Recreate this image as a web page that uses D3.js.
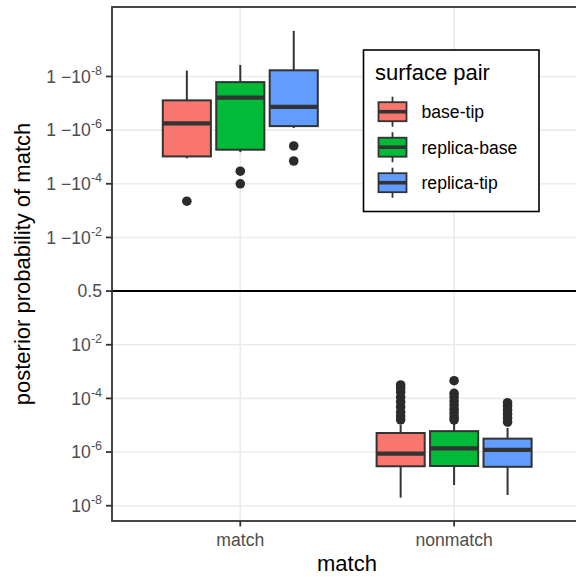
<!DOCTYPE html>
<html>
<head>
<meta charset="utf-8">
<script src="https://cdn.jsdelivr.net/npm/d3@7"></script>
<style>
  html, body { margin: 0; padding: 0; background: #fff; }
  svg { display: block; font-family: "Liberation Sans", Arial, Helvetica, sans-serif; }
</style>
</head>
<body>
<div id="chart"></div>
<script>
// Posterior probability of match, stored as log10 odds: log10(p / (1 - p))
const groups = ["match", "nonmatch"];
const pairs = ["base-tip", "replica-base", "replica-tip"];
const pairColors = ["#F8766D", "#00BA38", "#619CFF"];

// Box-plot summaries, indexed [group][pair]
const whiskerLow = [[4.95, 5.18, 6.08], [-7.70, -7.23, -7.60]];
const q1         = [[5.02, 5.27, 6.15], [-6.53, -6.52, -6.55]];
const median     = [[6.25, 7.21, 6.87], [-6.06, -5.86, -5.92]];
const q3         = [[7.11, 7.79, 8.23], [-5.29, -5.22, -5.50]];
const whiskerHigh= [[8.22, 8.43, 9.70], [-4.99, -4.92, -5.10]];
const outliers   = [
  [[3.35], [4.47, 4.00], [5.41, 4.85]],
  [[-3.50, -3.61, -3.76, -3.95, -4.13, -4.32, -4.51, -4.66, -4.80],
   [-3.34, -3.81, -3.95, -4.10, -4.25, -4.40, -4.54, -4.69, -4.80],
   [-4.16, -4.28, -4.43, -4.58, -4.73, -4.88]]
];

// Axis breaks (log10 odds) and their labels: [base text, superscript]
const yTicks = [-8, -6, -4, -2, 0, 2, 4, 6, 8];
const yTickLabels = [
  ["10", "-8"], ["10", "-6"], ["10", "-4"], ["10", "-2"], ["0.5", ""],
  ["1 \u221210", "-2"], ["1 \u221210", "-4"], ["1 \u221210", "-6"], ["1 \u221210", "-8"]
];
const yDomain = [-8.57, 10.59];

const W = 576, H = 577;
const panel = { left: 112, top: 7, right: 582.4, bottom: 521 };

const svg = d3.select("#chart").append("svg")
  .attr("width", W).attr("height", H);

svg.append("rect").attr("width", W).attr("height", H).attr("fill", "#fff");

const x = d3.scalePoint().domain(groups)
  .range([panel.left, panel.right]).padding(0.6);
const step = x.step();
const dodge = d3.scaleBand().domain(pairs)
  .range([-0.375 * step, 0.375 * step]);
const boxW = dodge.bandwidth() * 0.9;
const y = d3.scaleLinear().domain(yDomain).range([panel.bottom, panel.top]);

// Grid
const grid = svg.append("g");
grid.selectAll("line.h").data(yTicks).join("line")
  .attr("x1", panel.left).attr("x2", W)
  .attr("y1", d => y(d)).attr("y2", d => y(d))
  .attr("stroke", "#EBEBEB").attr("stroke-width", 1.6);
grid.selectAll("line.v").data(groups).join("line")
  .attr("x1", d => x(d)).attr("x2", d => x(d))
  .attr("y1", panel.top).attr("y2", panel.bottom)
  .attr("stroke", "#EBEBEB").attr("stroke-width", 1.6);

// Reference line at p = 0.5
svg.append("line")
  .attr("x1", panel.left).attr("x2", W)
  .attr("y1", y(0)).attr("y2", y(0))
  .attr("stroke", "#000").attr("stroke-width", 2);

// Boxes
const boxes = [];
groups.forEach((g, gi) => pairs.forEach((p, pi) => {
  boxes.push({ g, p, gi, pi });
}));
const outlineCol = "#333333";
const bx = svg.append("g").selectAll("g").data(boxes).join("g")
  .attr("transform", d => `translate(${x(d.g) + dodge(d.p) + dodge.bandwidth() / 2},0)`);

bx.append("line")
  .attr("y1", d => y(whiskerHigh[d.gi][d.pi])).attr("y2", d => y(q3[d.gi][d.pi]))
  .attr("stroke", outlineCol).attr("stroke-width", 2);
bx.append("line")
  .attr("y1", d => y(q1[d.gi][d.pi])).attr("y2", d => y(whiskerLow[d.gi][d.pi]))
  .attr("stroke", outlineCol).attr("stroke-width", 2);
bx.append("rect")
  .attr("x", -boxW / 2).attr("width", boxW)
  .attr("y", d => y(q3[d.gi][d.pi]))
  .attr("height", d => y(q1[d.gi][d.pi]) - y(q3[d.gi][d.pi]))
  .attr("fill", d => pairColors[d.pi])
  .attr("stroke", outlineCol).attr("stroke-width", 2);
bx.append("line")
  .attr("x1", -boxW / 2).attr("x2", boxW / 2)
  .attr("y1", d => y(median[d.gi][d.pi])).attr("y2", d => y(median[d.gi][d.pi]))
  .attr("stroke", outlineCol).attr("stroke-width", 4.2);
bx.selectAll("circle").data(d => outliers[d.gi][d.pi]).join("circle")
  .attr("cx", 0).attr("cy", v => y(v)).attr("r", 4.8)
  .attr("fill", "#2b2b2b");

// Y axis
const yAxis = svg.append("g");
yAxis.selectAll("line").data(yTicks).join("line")
  .attr("x1", panel.left - 6).attr("x2", panel.left)
  .attr("y1", d => y(d)).attr("y2", d => y(d))
  .attr("stroke", "#333").attr("stroke-width", 1.8);
const yl = yAxis.selectAll("text").data(yTicks).join("text")
  .attr("x", panel.left - 10).attr("y", d => y(d) + 6.3)
  .attr("text-anchor", "end").attr("fill", "#4D4D4D")
  .style("font-size", "17.6px");
yl.append("tspan").text((d, i) => yTickLabels[i][0]);
yl.append("tspan").text((d, i) => yTickLabels[i][1])
  .attr("dy", -8).style("font-size", "12.5px");

// X axis
const xAxis = svg.append("g");
xAxis.selectAll("line").data(groups).join("line")
  .attr("x1", d => x(d)).attr("x2", d => x(d))
  .attr("y1", panel.bottom).attr("y2", panel.bottom + 5.5)
  .attr("stroke", "#333").attr("stroke-width", 1.8);
xAxis.selectAll("text").data(groups).join("text")
  .attr("x", d => x(d)).attr("y", 545.5)
  .attr("text-anchor", "middle").attr("fill", "#4D4D4D")
  .style("font-size", "17.6px").text(d => d);

// Axis titles
svg.append("text")
  .attr("x", (panel.left + panel.right) / 2 - 0.2).attr("y", 571)
  .attr("text-anchor", "middle").attr("fill", "#000")
  .style("font-size", "22px").text("match");
svg.append("text")
  .attr("transform", `translate(30,${(panel.top + panel.bottom) / 2}) rotate(-90)`)
  .attr("text-anchor", "middle").attr("fill", "#000")
  .style("font-size", "22px").text("posterior probability of match");

// Panel border
svg.append("rect")
  .attr("x", panel.left).attr("y", panel.top)
  .attr("width", panel.right - panel.left).attr("height", panel.bottom - panel.top)
  .attr("fill", "none").attr("stroke", "#333").attr("stroke-width", 1.8);

// Legend
const lg = svg.append("g").attr("transform", "translate(363.5,50)");
lg.append("rect").attr("width", 175.5).attr("height", 161.5)
  .attr("fill", "#fff").attr("stroke", "#000").attr("stroke-width", 1.6);
lg.append("text").attr("x", 11.5).attr("y", 30)
  .attr("fill", "#000").style("font-size", "22px").text("surface pair");
const keys = lg.selectAll("g.key").data(pairs).join("g")
  .attr("transform", (d, i) => `translate(29,${61.7 + i * 35.5})`);
keys.append("line").attr("y1", -15).attr("y2", 15)
  .attr("stroke", outlineCol).attr("stroke-width", 1.8);
keys.append("rect").attr("x", -14).attr("width", 28).attr("y", -9.5).attr("height", 19)
  .attr("fill", (d, i) => pairColors[i])
  .attr("stroke", outlineCol).attr("stroke-width", 1.8);
keys.append("line").attr("x1", -14).attr("x2", 14)
  .attr("stroke", outlineCol).attr("stroke-width", 3.6);
keys.append("text").attr("x", 29).attr("y", 6.3)
  .attr("fill", "#000").style("font-size", "17.6px").text(d => d);
</script>
</body>
</html>
